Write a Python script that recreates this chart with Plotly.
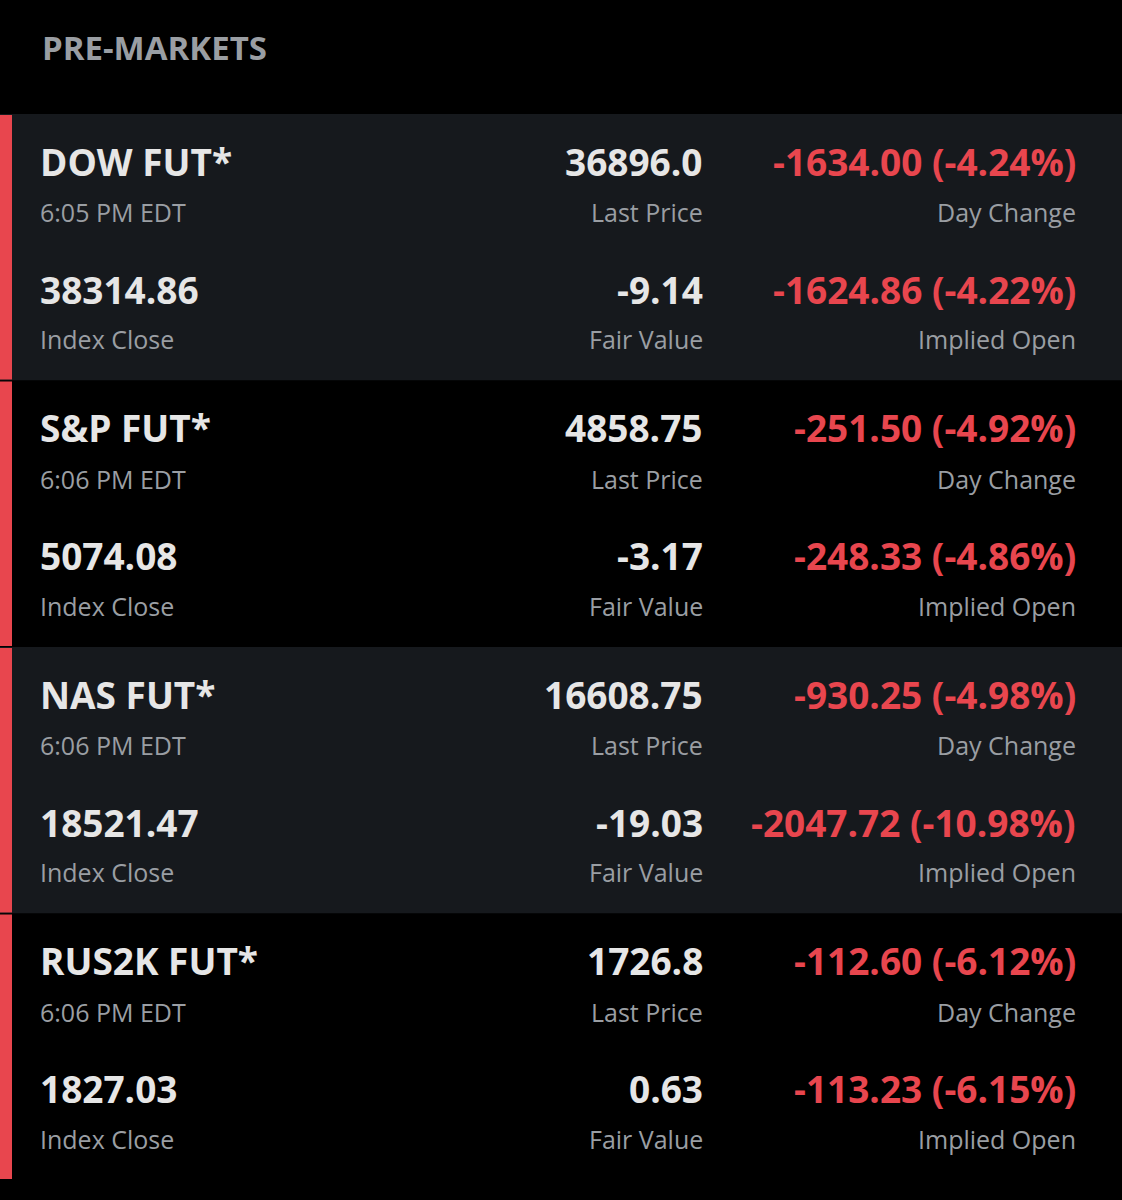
import plotly.graph_objects as go

names = ["DOW FUT*", "S&P FUT*", "NAS FUT*", "RUS2K FUT*"]
times = ["6:05 PM EDT", "6:06 PM EDT", "6:06 PM EDT", "6:06 PM EDT"]
last_price = ["36896.0", "4858.75", "16608.75", "1726.8"]
day_change = ["-1634.00 (-4.24%)", "-251.50 (-4.92%)", "-930.25 (-4.98%)", "-112.60 (-6.12%)"]
index_close = ["38314.86", "5074.08", "18521.47", "1827.03"]
fair_value = ["-9.14", "-3.17", "-19.03", "0.63"]
implied_open = ["-1624.86 (-4.22%)", "-248.33 (-4.86%)", "-2047.72 (-10.98%)", "-113.23 (-6.15%)"]

W, H = 1122, 1200
top0, rowh = 114, 266.5
WHITE, GRAY, RED = "#e6e6e6", "#9a9ea3", "#e8464e"
FONT = "Open Sans"

fig = go.Figure()
fig.add_trace(go.Scatter(x=[0, W], y=[0, H], mode="markers", marker=dict(opacity=0), hoverinfo="skip"))

shapes, ann = [], []
def txt(x, y, s, size, color, anchor="left", bold=True):
    ann.append(dict(x=x, y=y, xref="x", yref="y", text=f"<b>{s}</b>" if bold else s,
                    showarrow=False, xanchor=anchor, yanchor="middle",
                    font=dict(family=FONT, size=size, color=color)))

txt(40, 47, "PRE-MARKETS", 33, GRAY)
for i in range(len(names)):
    t = top0 + i * rowh
    bg = "#16191d" if i % 2 == 0 else "#000000"
    shapes.append(dict(type="rect", xref="x", yref="y", x0=0, x1=W, y0=t, y1=t + rowh,
                       fillcolor=bg, line=dict(width=0), layer="below"))
    shapes.append(dict(type="rect", xref="x", yref="y", x0=0, x1=12, y0=t + 1, y1=t + rowh - 1,
                       fillcolor=RED, line=dict(width=0), layer="below"))
    txt(38, t + 47, names[i], 37, WHITE)
    txt(38, t + 98, times[i], 25, GRAY, bold=False)
    txt(38, t + 175, index_close[i], 37, WHITE)
    txt(38, t + 225, "Index Close", 25, GRAY, bold=False)
    txt(705, t + 47, last_price[i], 37, WHITE, "right")
    txt(705, t + 98, "Last Price", 25, GRAY, "right", bold=False)
    txt(705, t + 175, fair_value[i], 37, WHITE, "right")
    txt(705, t + 225, "Fair Value", 25, GRAY, "right", bold=False)
    txt(1078, t + 47, day_change[i], 37, RED, "right")
    txt(1078, t + 98, "Day Change", 25, GRAY, "right", bold=False)
    txt(1078, t + 175, implied_open[i], 37, RED, "right")
    txt(1078, t + 225, "Implied Open", 25, GRAY, "right", bold=False)

fig.update_layout(width=W, height=H, margin=dict(l=0, r=0, t=0, b=0),
                  paper_bgcolor="#000000", plot_bgcolor="#000000", showlegend=False,
                  xaxis=dict(range=[0, W], visible=False, fixedrange=True),
                  yaxis=dict(range=[H, 0], visible=False, fixedrange=True),
                  shapes=shapes, annotations=ann)
fig.write_html("out.html", config={"displayModeBar": False},
               post_script="document.body.style.margin='0';document.body.style.background='#000';")
